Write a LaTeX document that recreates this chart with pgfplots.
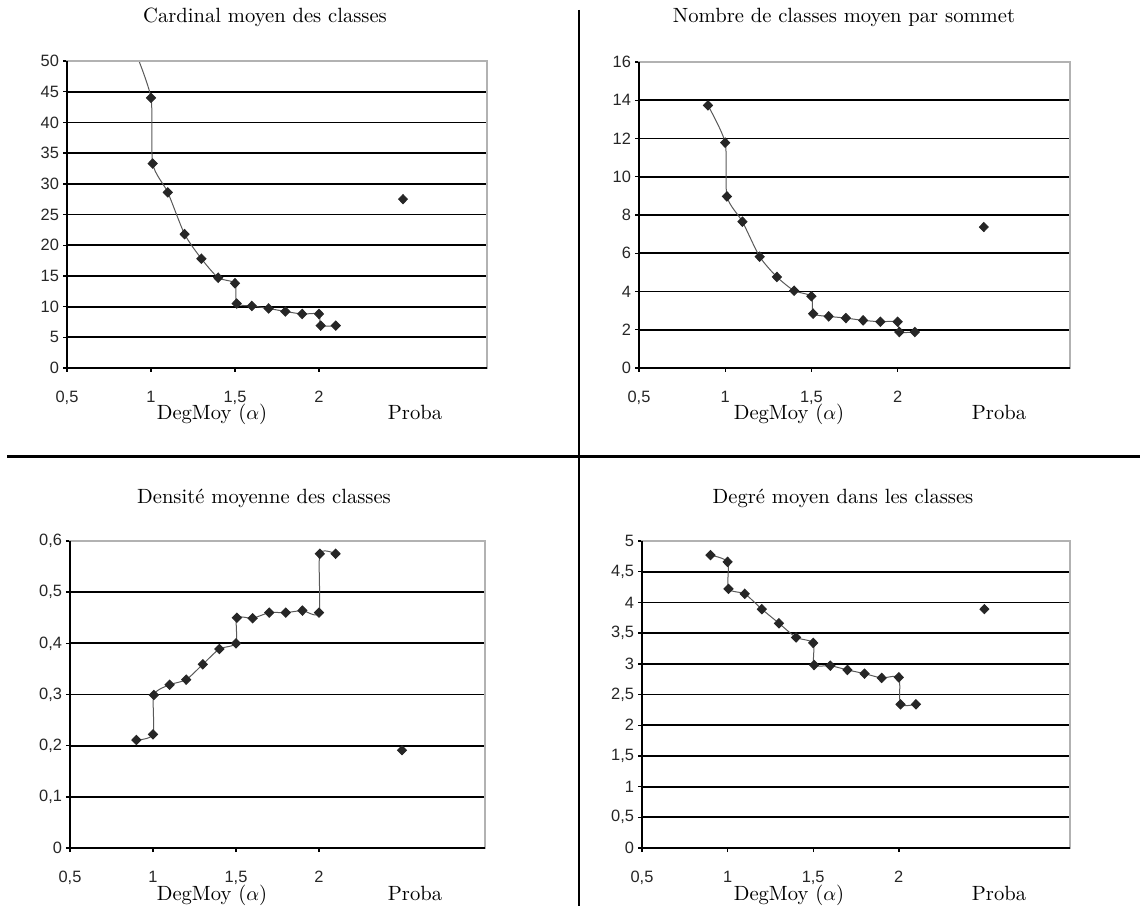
\documentclass[border=0pt]{standalone}
\usepackage{pgfplots}
\pgfplotsset{compat=1.18}
\usepackage{fontspec}
\newfontfamily\ticksfont{Liberation Sans}
\begin{document}
\begin{tikzpicture}[x=0.5pt,y=0.5pt]
\path[use as bounding box] (0,0) rectangle (1140,906);
\pgfplotsset{
  excel/.style={
    scale only axis,
    anchor=south west,
    xmin=0.5, xmax=3,
    xtick={0.5,1,1.5,2},
    tick align=outside,
    tick pos=left,
    major tick length=2pt,
    tick style={black, line width=0.7pt},
    axis line style={draw=gray!60, line width=0.8pt},
    ymajorgrids,
    grid style={black, line width=0.9pt},
    clip mode=individual,
    /pgf/number format/use comma,
    /pgf/number format/assume math mode=true,
    ticklabel style={font=\ticksfont\fontsize{8.2}{9}\selectfont, text=black!85},
    xticklabel style={anchor=north, text height=6pt, yshift=-5.5pt},
    yticklabel style={xshift=1.5pt},
  },
  serie/.style={color=black!65, line width=0.5pt, smooth, tension=0.4, mark=diamond*, mark size=2.3pt, mark options={fill=black!85, draw=black!85, xscale=1.3}},
  proba/.style={only marks, mark=diamond*, mark size=2.3pt, mark options={fill=black!85, draw=black!85, xscale=1.3}},
}
\newcommand\borders{%
  \draw[gray!60, line width=1pt] (rel axis cs:0,1) -- (rel axis cs:1,1) -- (rel axis cs:1,0);
  \draw[black, line width=0.8pt] (rel axis cs:0,1) -- (rel axis cs:0,0) -- (rel axis cs:1,0);
}

% Panel 1
\begin{axis}[excel, at={(33.5pt,269pt)}, width=210pt, height=153.5pt,
  ymin=0, ymax=50, ytick={0,5,...,50}]
\addplot[serie] coordinates {
(0.9,52) (1.0,44) (1.01,33.3) (1.1,28.6) (1.2,21.8) (1.3,17.8) (1.4,14.7) (1.5,13.8)
(1.51,10.5) (1.6,10.1) (1.7,9.7) (1.8,9.2) (1.9,8.8) (2.0,8.8) (2.01,6.9) (2.1,6.9)};
\addplot[proba] coordinates {(2.5,27.5)};
\borders
\end{axis}

% Panel 2
\begin{axis}[excel, at={(319.5pt,269pt)}, width=215.5pt, height=153pt,
  ymin=0, ymax=16, ytick={0,2,...,16}]
\addplot[serie] coordinates {
(0.9,13.73) (1.0,11.78) (1.01,8.97) (1.1,7.65) (1.2,5.82) (1.3,4.76) (1.4,4.04) (1.5,3.75)
(1.51,2.84) (1.6,2.70) (1.7,2.61) (1.8,2.49) (1.9,2.42) (2.0,2.42) (2.01,1.88) (2.1,1.88)};
\addplot[proba] coordinates {(2.5,7.37)};
\borders
\end{axis}

% Panel 3
\begin{axis}[excel, at={(35pt,29pt)}, width=207.5pt, height=153.5pt,
  ymin=0, ymax=0.6, ytick={0,0.1,0.2,0.3,0.4,0.5,0.6}]
\addplot[serie] coordinates {
(0.9,0.211) (1.0,0.222) (1.005,0.299) (1.1,0.319) (1.2,0.329) (1.3,0.359) (1.4,0.389) (1.5,0.400)
(1.505,0.450) (1.6,0.449) (1.7,0.46) (1.8,0.46) (1.9,0.464) (2.0,0.46) (2.005,0.575) (2.1,0.575)};
\addplot[proba] coordinates {(2.5,0.191)};
\borders
\end{axis}

% Panel 4
\begin{axis}[excel, at={(321pt,29pt)}, width=214pt, height=153.5pt,
  ymin=0, ymax=5, ytick={0,0.5,1,1.5,2,2.5,3,3.5,4,4.5,5}]
\addplot[serie] coordinates {
(0.9,4.77) (1.0,4.66) (1.005,4.22) (1.1,4.14) (1.2,3.89) (1.3,3.66) (1.4,3.43) (1.5,3.34)
(1.505,2.98) (1.6,2.97) (1.7,2.90) (1.8,2.84) (1.9,2.77) (2.0,2.78) (2.01,2.34) (2.1,2.34)};
\addplot[proba] coordinates {(2.5,3.89)};
\borders
\end{axis}

% Titles and labels
\begin{scope}[every node/.style={font=\fontsize{10.3}{12}\selectfont, inner sep=0pt, anchor=base}]
\node at (265,883) {Cardinal moyen des classes};
\node at (844,883) {Nombre de classes moyen par sommet};
\node at (264,402) {Densité moyenne des classes};
\node at (843,402) {Degré moyen dans les classes};
\node at (212,486) {DegMoy ($\alpha$)};
\node at (415,486) {Proba};
\node at (789,486) {DegMoy ($\alpha$)};
\node at (999,486) {Proba};
\node at (212,6) {DegMoy ($\alpha$)};
\node at (415,6) {Proba};
\node at (789,6) {DegMoy ($\alpha$)};
\node at (999,6) {Proba};
\end{scope}

% Dividers
\draw[black, line width=1.35pt] (579,896) -- (579,0);
\draw[black, line width=1.35pt] (7,449.3) -- (1140,449.3);
\end{tikzpicture}
\end{document}
